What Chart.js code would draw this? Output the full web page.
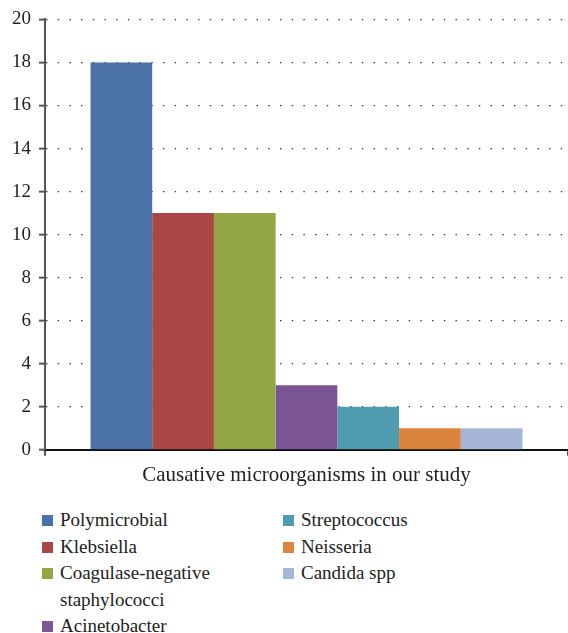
<!DOCTYPE html>
<html>
<head>
<meta charset="UTF-8" />
<title>Causative microorganisms</title>
<script src="https://cdn.jsdelivr.net/npm/chart.js@4/dist/chart.umd.min.js"></script>
<style>
body { margin: 0; background: #fff; font-family: "Liberation Serif", "DejaVu Serif", serif; color: #222; }
#wrap { position: relative; width: 568px; height: 490px; }
#legend { position: absolute; top: 507px; left: 0; width: 568px; }
.col { position: absolute; top: 0; }
.item { position: relative; padding-left: 18px; font-size: 19px; line-height: 26.5px; width: 180px; }
.box { position: absolute; left: 0; top: 8px; width: 11px; height: 11px; }
</style>
</head>
<body>
<div id="wrap"><canvas id="chart"></canvas></div>
<div id="legend"></div>
<script>
var category = ["Causative microorganisms in our study"];
var organisms = ["Polymicrobial", "Klebsiella", "Coagulase-negative staphylococci", "Acinetobacter", "Streptococcus", "Neisseria", "Candida spp"];
var counts = [18, 11, 11, 3, 2, 1, 1];
var colors = ["#4a72a6", "#aa4643", "#93a745", "#7b5596", "#4f9bb0", "#db843d", "#a5b6d8"];
var yTicks = [0, 2, 4, 6, 8, 10, 12, 14, 16, 18, 20];

var serif = "'Liberation Serif', 'DejaVu Serif', serif";

var datasets = [];
for (var i = 0; i < organisms.length; i++) {
	datasets.push({
		label: organisms[i],
		data: [counts[i]],
		backgroundColor: colors[i],
		borderWidth: 0
	});
}

new Chart(document.getElementById("chart"), {
	type: 'bar',
	data: { labels: category, datasets: datasets },
	options: {
		responsive: true,
		maintainAspectRatio: false,
		animation: false,
		categoryPercentage: 0.826,
		barPercentage: 1,
		layout: { padding: { top: 12, left: 0, right: 0, bottom: 2 } },
		plugins: { legend: { display: false }, tooltip: { enabled: false } },
		scales: {
			x: {
				ticks: { display: false },
				grid: { drawOnChartArea: false, drawTicks: true, tickLength: 6, tickColor: '#555', lineWidth: 2 },
				border: { color: '#111', width: 2 },
				title: { display: true, text: category[0], color: '#222', font: { family: serif, size: 21 }, padding: { top: 7, bottom: 0 } }
			},
			y: {
				min: 0,
				max: 20,
				afterFit: function(scale) { scale.width = 45; },
				afterBuildTicks: function(scale) {
					scale.ticks = yTicks.map(function(v) { return { value: v }; });
				},
				ticks: { color: '#222', font: { family: serif, size: 19 }, padding: 8 },
				grid: { color: '#333', lineWidth: 1.3, tickLength: 6, tickColor: '#555', tickWidth: 2, tickBorderDash: [] },
				border: { color: '#555', width: 2, dash: [1.4, 10.3] }
			}
		}
	}
});

// legend: first half down the left column, rest on the right
var legend = document.getElementById("legend");
var split = Math.ceil(organisms.length / 2);
var cols = [document.createElement("div"), document.createElement("div")];
cols[0].className = "col"; cols[0].style.left = "42px";
cols[1].className = "col"; cols[1].style.left = "283px";
legend.appendChild(cols[0]); legend.appendChild(cols[1]);
for (var j = 0; j < organisms.length; j++) {
	var it = document.createElement("div");
	it.className = "item";
	var b = document.createElement("span");
	b.className = "box";
	b.style.background = colors[j];
	it.appendChild(b);
	it.appendChild(document.createTextNode(organisms[j]));
	cols[j < split ? 0 : 1].appendChild(it);
}
</script>
</body>
</html>
